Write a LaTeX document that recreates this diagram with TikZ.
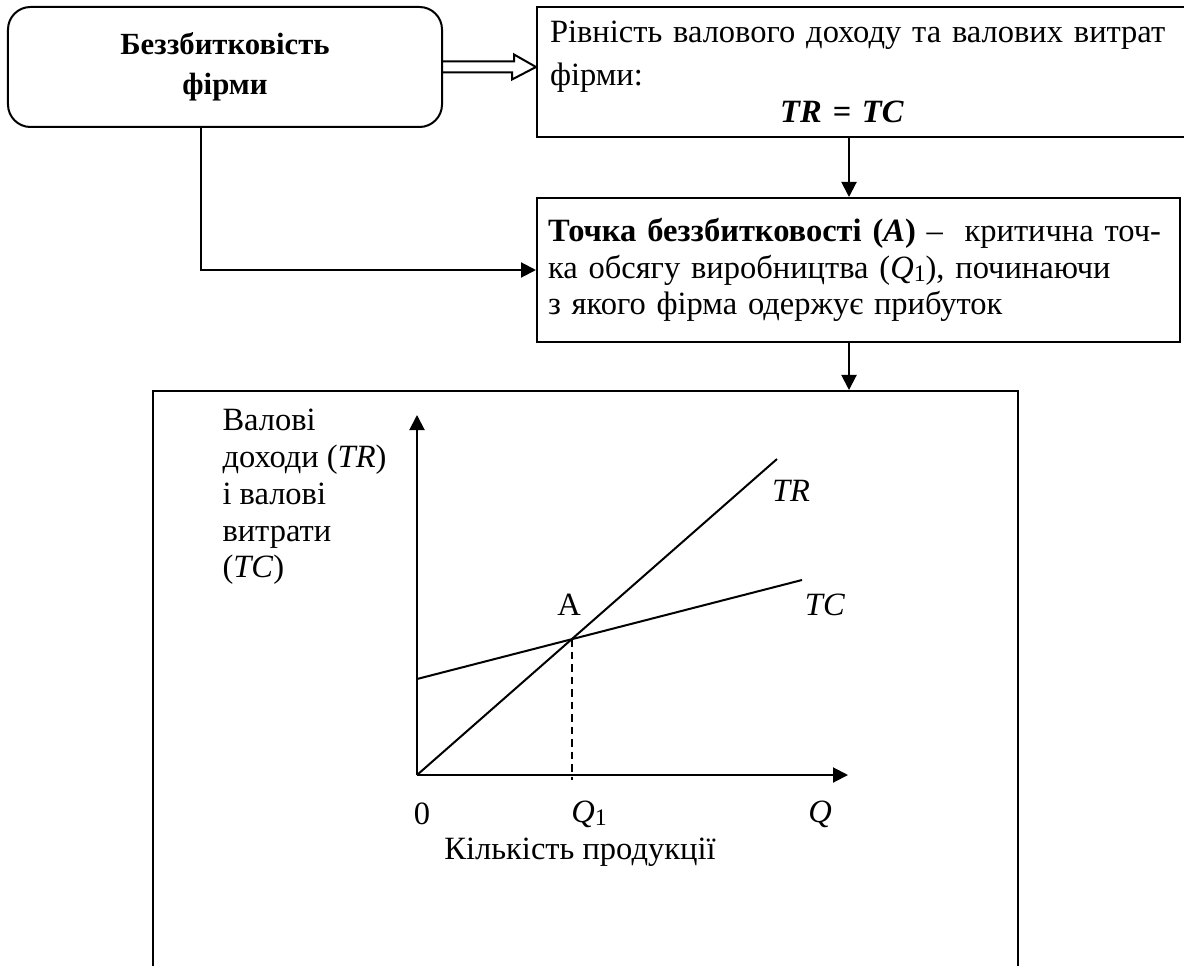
\documentclass[tikz,border=0pt]{standalone}
\usepackage{fontspec}
\setmainfont{Liberation Serif}
\usetikzlibrary{calc,arrows.meta,positioning}
\newcommand{\lowone}{\raisebox{-0.1em}{\fontsize{9.5}{10}\selectfont 1}}
\tikzset{
  bbox/.style  ={rectangle, draw, line width=0.8pt, inner sep=0pt},
  bround/.style={bbox, rounded corners=9pt},
  bline/.style ={line width=0.8pt},
  barrow/.style={bline, -{Triangle[length=6pt, width=6pt]}},
  bdash/.style ={line width=0.7pt, dash pattern=on 3pt off 2pt},
  btext/.style ={inner sep=0pt, font=\fontsize{13}{14.7}\selectfont},
}
\begin{document}
\begin{tikzpicture}[x=0.4pt, y=-0.4pt]
  \useasboundingbox (0,0) rectangle (1184,965);
  \clip (0,0) rectangle (1184,965);
  % boxes
  \node[bround, minimum width=173.6pt, minimum height=48pt, align=center,
        font=\bfseries\fontsize{12.3}{16}\selectfont] (bezz) at (225,67)
       {Беззбитковість\\фірми};
  \node[bbox, minimum width=260pt, minimum height=52pt, text width=249.6pt,
        align=left, font=\fontsize{13}{14.7}\selectfont] (rivn) at (862,72)
       {Рівність валового доходу та валових витрат\\[2.4pt]
        фірми:\par\centering\textbf{\textit{TR = TC}}\hspace*{16pt}\par};
  \node[bbox, minimum width=257.2pt, minimum height=57.6pt, text width=248.4pt,
        align=left, font=\fontsize{13}{14.7}\selectfont] (tochka) at (858.5,270)
       {\textbf{Точка беззбитковості (\textit{A})} –\ \ критична точ-\\
        ка обсягу виробництва (\textit{Q}\lowone), починаючи\\
        з якого фірма одержує прибуток};
  \node[bbox, minimum width=346pt, minimum height=243.6pt] (graph) at (585.5,695.5) {};
  % connectors
  \draw[bline, line join=miter] ($(bezz.east)+(0,-5.5)$) -- ++(71,0) -- ++(0,-7)
       -- (bezz.east -| rivn.west) -- ++(-24,12.5) -- ++(0,-7)
       -- ($(bezz.east)+(0,5.5)$);
  \coordinate (mid) at (849,0);
  \coordinate (turn) at (201,271);
  \draw[barrow] (rivn.south -| mid) -- (tochka.north -| mid);
  \draw[barrow] (tochka.south -| mid) -- (graph.north -| mid);
  \draw[barrow] (bezz.south -| turn) |- (tochka.west);
  % graph
  \coordinate (O) at (417,775);
  \coordinate (ytop) at (417,415);
  \coordinate (xend) at (848,775);
  \coordinate (trend) at (777,459);
  \coordinate (tcbeg) at (417,679);
  \coordinate (tcend) at (802,580);
  \coordinate (A) at (572,639);
  \coordinate (q1) at (572,780);
  \draw[barrow] (O) -- (ytop);
  \draw[barrow] (O) -- (xend);
  \draw[bline] (O) -- (trend);
  \draw[bline] (tcbeg) -- (tcend);
  \draw[bdash] (A) -- (q1);
  \node[btext, anchor=west, align=left] (ylab) at (222,497)
       {Валові\\доходи (\textit{TR})\\і валові\\витрати\\(\textit{TC})};
  \node[btext] (zero) at (422,814) {0};
  \node[btext] (q1lab) at (589,814) {\textit{Q}\lowone};
  \node[btext] (qlab) at (820,814) {\textit{Q}};
  \node[btext] (qty) at (580,852) {Кількість продукції};
  \node[btext] (alab) at (569,605) {A};
  \node[btext] (trlab) at (791,491) {\textit{TR}};
  \node[btext] (tclab) at (825,605) {\textit{TC}};
\end{tikzpicture}
\end{document}
